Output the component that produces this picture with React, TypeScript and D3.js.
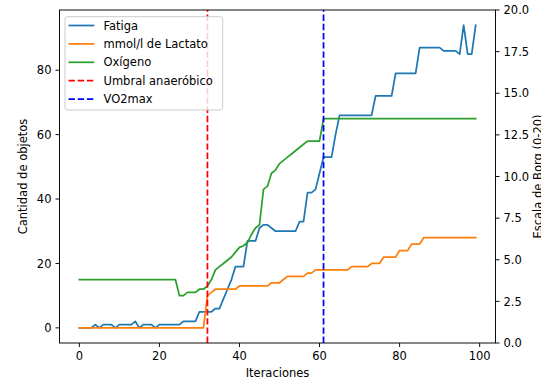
import React from 'react';
import * as d3 from 'd3';

// Series sampled once per iteration (index = iteration number)
const fatiga: number[] = [
  0, 0, 0, 0, 1, 0, 1, 1, 1, 0,
  1, 1, 1, 1, 2, 0, 1, 1, 1, 0,
  1, 1, 1, 1, 1, 1, 2, 2, 2, 2,
  5, 5, 5, 5, 6, 6, 9, 12, 15, 19,
  19, 19, 27, 27, 27, 31, 32, 32, 31, 30,
  30, 30, 30, 30, 30, 33, 33, 42, 42, 43,
  48, 53, 53, 53, 60, 66, 66, 66, 66, 66,
  66, 66, 66, 66, 72, 72, 72, 72, 72, 79,
  79, 79, 79, 79, 79, 87, 87, 87, 87, 87,
  87, 86, 86, 86, 86, 85, 94, 85, 85, 94,
];

const lactato: number[] = [
  0, 0, 0, 0, 0, 0, 0, 0, 0, 0,
  0, 0, 0, 0, 0, 0, 0, 0, 0, 0,
  0, 0, 0, 0, 0, 0, 0, 0, 0, 0,
  0, 0, 10, 11, 12, 12, 12, 12, 12, 12,
  13, 13, 13, 13, 13, 13, 13, 13, 14, 14,
  14, 15, 16, 16, 16, 16, 16, 17, 17, 18,
  18, 18, 18, 18, 18, 18, 18, 18, 19, 19,
  19, 19, 19, 20, 20, 20, 22, 22, 22, 22,
  24, 24, 24, 26, 26, 26, 28, 28, 28, 28,
  28, 28, 28, 28, 28, 28, 28, 28, 28, 28,
];

const oxigeno: number[] = [
  15, 15, 15, 15, 15, 15, 15, 15, 15, 15,
  15, 15, 15, 15, 15, 15, 15, 15, 15, 15,
  15, 15, 15, 15, 15, 10, 10, 11, 11, 11,
  12, 12, 13, 15, 18, 19, 20, 21, 22, 23.5,
  25, 25.5, 26.5, 29, 31, 32, 43, 44, 48, 49,
  51, 52, 53, 54, 55, 56, 57, 58, 58, 58,
  58, 65, 65, 65, 65, 65, 65, 65, 65, 65,
  65, 65, 65, 65, 65, 65, 65, 65, 65, 65,
  65, 65, 65, 65, 65, 65, 65, 65, 65, 65,
  65, 65, 65, 65, 65, 65, 65, 65, 65, 65,
];

const umbralAnaerobico = 32;
const vo2max = 61;

const xTicks = [0, 20, 40, 60, 80, 100];
const yTicks = [0, 20, 40, 60, 80];
const borgTicks = [0, 2.5, 5, 7.5, 10, 12.5, 15, 17.5, 20];

const series = [
  { name: 'Fatiga', values: fatiga, color: '#1f77b4' },
  { name: 'mmol/l de Lactato', values: lactato, color: '#ff7f0e' },
  { name: 'Oxígeno', values: oxigeno, color: '#2ca02c' },
];

const W = 541;
const H = 381;
const left = 59.5;
const right = 495.5;
const top = 10;
const bottom = 343;
const font = '"DejaVu Sans", Verdana, sans-serif';
const fs = 11.5;
const lw = 1.75;
const dash = '6.4,2.8';

export default function App() {
  const n = fatiga.length;
  const all = [...fatiga, ...lactato, ...oxigeno];
  const yMin = d3.min(all) as number;
  const yMax = d3.max(all) as number;
  const yPad = (yMax - yMin) * 0.05;
  const xPad = (n - 1) * 0.05;

  const x = d3.scaleLinear().domain([0 - xPad, n - 1 + xPad]).range([left, right]);
  const y = d3.scaleLinear().domain([yMin - yPad, yMax + yPad]).range([bottom, top]);
  const yBorg = d3.scaleLinear().domain([0, 20]).range([bottom, top]);

  const line = d3
    .line<number>()
    .x((_, i) => x(i))
    .y((d) => y(d));

  const legendItems = [
    ...series.map((s) => ({ name: s.name, color: s.color, dashed: false })),
    { name: 'Umbral anaeróbico', color: '#ff0000', dashed: true },
    { name: 'VO2max', color: '#0000ff', dashed: true },
  ];

  const lgX = 65;
  const lgY = 16.7;
  const lgW = 157.7;
  const lgH = 93.3;
  const rowY0 = 25.5;
  const rowStep = 18.4;

  return (
    <svg width={W} height={H} style={{ position: 'absolute', left: 0, top: 0 }} fontFamily={font}>
      <rect x={0} y={0} width={W} height={H} fill="#ffffff" />

      <defs>
        <clipPath id="plot-area">
          <rect x={left} y={top} width={right - left} height={bottom - top} />
        </clipPath>
      </defs>

      <g clipPath="url(#plot-area)">
        {series.map((s) => (
          <path
            key={s.name}
            d={line(s.values) ?? ''}
            fill="none"
            stroke={s.color}
            strokeWidth={lw}
            strokeLinejoin="round"
            strokeLinecap="square"
          />
        ))}
        <line
          x1={x(umbralAnaerobico)}
          x2={x(umbralAnaerobico)}
          y1={bottom}
          y2={top}
          stroke="#ff0000"
          strokeWidth={lw}
          strokeDasharray={dash}
        />
        <line
          x1={x(vo2max)}
          x2={x(vo2max)}
          y1={bottom}
          y2={top}
          stroke="#0000ff"
          strokeWidth={lw}
          strokeDasharray={dash}
        />
      </g>

      {/* frame */}
      <rect
        x={left}
        y={top}
        width={right - left}
        height={bottom - top}
        fill="none"
        stroke="#000"
        strokeWidth={0.95}
      />

      {/* bottom axis */}
      {xTicks.map((t) => (
        <g key={`x${t}`}>
          <line x1={x(t)} x2={x(t)} y1={bottom} y2={bottom + 4} stroke="#000" strokeWidth={0.95} />
          <text x={x(t)} y={360} fontSize={fs} textAnchor="middle" fill="#000">
            {t}
          </text>
        </g>
      ))}
      <text x={(left + right) / 2} y={377} fontSize={fs} textAnchor="middle" fill="#000">
        Iteraciones
      </text>

      {/* left axis */}
      {yTicks.map((t) => (
        <g key={`y${t}`}>
          <line x1={left - 4} x2={left} y1={y(t)} y2={y(t)} stroke="#000" strokeWidth={0.95} />
          <text x={left - 8} y={y(t)} dy="0.36em" fontSize={fs} textAnchor="end" fill="#000">
            {t}
          </text>
        </g>
      ))}
      <text
        transform={`translate(26.5, ${(top + bottom) / 2}) rotate(-90)`}
        fontSize={fs}
        textAnchor="middle"
        fill="#000"
      >
        Cantidad de objetos
      </text>

      {/* right axis (Borg) */}
      {borgTicks.map((t) => (
        <g key={`b${t}`}>
          <line x1={right} x2={right + 4} y1={yBorg(t)} y2={yBorg(t)} stroke="#000" strokeWidth={0.95} />
          <text x={right + 8} y={yBorg(t)} dy="0.36em" fontSize={fs} textAnchor="start" fill="#000">
            {t.toFixed(1)}
          </text>
        </g>
      ))}
      <text
        transform={`translate(542, ${(top + bottom) / 2}) rotate(-90)`}
        fontSize={fs}
        textAnchor="middle"
        fill="#000"
      >
        Escala de Borg (0-20)
      </text>

      {/* legend */}
      <rect
        x={lgX}
        y={lgY}
        width={lgW}
        height={lgH}
        rx={2.5}
        fill="#ffffff"
        fillOpacity={0.8}
        stroke="#cccccc"
        strokeWidth={1}
      />
      {legendItems.map((it, i) => {
        const cy = rowY0 + i * rowStep;
        return (
          <g key={it.name}>
            <line
              x1={68.5}
              x2={94.3}
              y1={cy}
              y2={cy}
              stroke={it.color}
              strokeWidth={lw}
              strokeDasharray={it.dashed ? dash : undefined}
            />
            <text x={103.5} y={cy} dy="0.36em" fontSize={fs} fill="#000">
              {it.name}
            </text>
          </g>
        );
      })}
    </svg>
  );
}
